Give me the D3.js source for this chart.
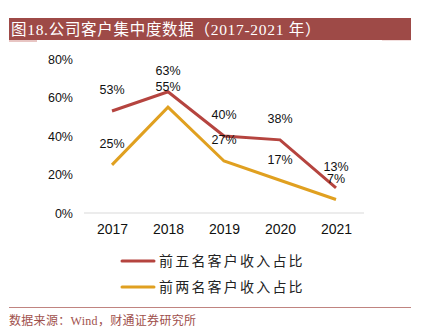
<!DOCTYPE html>
<html>
<head>
<meta charset="utf-8">
<script src="https://cdn.jsdelivr.net/npm/d3@7"></script>
<style>
  html, body { margin: 0; padding: 0; background: #fff; }
  svg { display: block; }
  .tick text { font-family: "Liberation Sans", Arial, sans-serif; fill: #111; }
</style>
</head>
<body>
<div id="chart"></div>
<script>
'use strict';

var years = ['2017', '2018', '2019', '2020', '2021'];
var topFive = [0.53, 0.63, 0.40, 0.38, 0.13];
var topTwo = [0.25, 0.55, 0.27, 0.17, 0.07];
var yTicks = [0, 0.2, 0.4, 0.6, 0.8];
var seriesNames = ['前五名客户收入占比', '前两名客户收入占比'];
var seriesColors = ['#B5443F', '#E0A020'];

var width = 424, height = 333;
var svg = d3.select('#chart').append('svg').attr('width', width).attr('height', height);

// title bar
svg.append('rect').attr('x', 9).attr('y', 18).attr('width', 402).attr('height', 22).attr('fill', '#9E4A47');
svg.append('rect').attr('x', 9).attr('y', 40).attr('width', 28).attr('height', 2).attr('fill', '#E8C5C3');
svg.append('rect').attr('x', 382).attr('y', 40).attr('width', 29).attr('height', 1).attr('fill', '#F3E0DF');
svg.append('text').attr('x', 11).attr('y', 34.5)
	.attr('fill', '#fff')
	.style('font-family', '"Liberation Serif", "Noto Sans CJK SC", serif')
	.style('font-size', '15.5px')
	.style('letter-spacing', '0.7px')
	.text('图18.公司客户集中度数据（2017-2021 年）');

var x = d3.scalePoint().domain(years).range([84, 364]).padding(0.5);
var y = d3.scaleLinear().domain([0, 0.8]).range([213, 59]);

// baseline
svg.append('line').attr('x1', 84).attr('x2', 364).attr('y1', y(0)).attr('y2', y(0))
	.attr('stroke', '#d9d9d9').attr('stroke-width', 1);

var yAxis = svg.append('g').attr('transform', 'translate(73,0)')
	.call(d3.axisLeft(y).tickValues(yTicks).tickSize(0).tickPadding(0).tickFormat(function (d) {
		return Math.round(d * 100) + '%';
	}));
yAxis.select('.domain').remove();
yAxis.selectAll('text').style('font-size', '12.5px').attr('dy', '0.35em');

var xAxis = svg.append('g').attr('transform', 'translate(0,' + y(0) + ')')
	.call(d3.axisBottom(x).tickSize(0).tickPadding(11));
xAxis.select('.domain').remove();
xAxis.selectAll('text').style('font-size', '14px');

var line = d3.line().x(function (d, i) { return x(years[i]); }).y(function (d) { return y(d); });

[topFive, topTwo].forEach(function (vals, si) {
	svg.append('path').datum(vals).attr('d', line)
		.attr('fill', 'none').attr('stroke', seriesColors[si]).attr('stroke-width', 3)
		.attr('stroke-linejoin', 'miter');
	svg.selectAll('text.lbl' + si).data(vals).enter().append('text')
		.attr('class', 'lbl' + si)
		.attr('x', function (d, i) { return x(years[i]); })
		.attr('y', function (d) { return y(d) - 21; })
		.attr('dy', '0.35em')
		.attr('text-anchor', 'middle')
		.style('font-family', '"Liberation Sans", Arial, sans-serif')
		.style('font-size', '12.5px')
		.attr('fill', '#111')
		.text(function (d) { return Math.round(d * 100) + '%'; });
});

// legend
seriesNames.forEach(function (name, i) {
	var ly = 261 + i * 26;
	svg.append('line').attr('x1', 122).attr('x2', 154).attr('y1', ly).attr('y2', ly)
		.attr('stroke', seriesColors[i]).attr('stroke-width', 3).attr('stroke-linecap', 'round');
	svg.append('text').attr('x', 159).attr('y', ly).attr('dy', '0.35em')
		.style('font-family', '"Noto Sans CJK SC", sans-serif')
		.style('font-size', '14px')
		.style('letter-spacing', '2.2px')
		.attr('fill', '#222')
		.text(name);
});

// footer
svg.append('line').attr('x1', 9).attr('x2', 411).attr('y1', 307.5).attr('y2', 307.5)
	.attr('stroke', '#C08480').attr('stroke-width', 1);
svg.append('text').attr('x', 9).attr('y', 321).attr('dy', '0.35em')
	.style('font-family', '"Liberation Serif", "Noto Sans CJK SC", serif')
	.style('font-size', '12px')
	.style('letter-spacing', '0.3px')
	.attr('fill', '#A0504C')
	.text('数据来源：Wind，财通证券研究所');
</script>
</body>
</html>
